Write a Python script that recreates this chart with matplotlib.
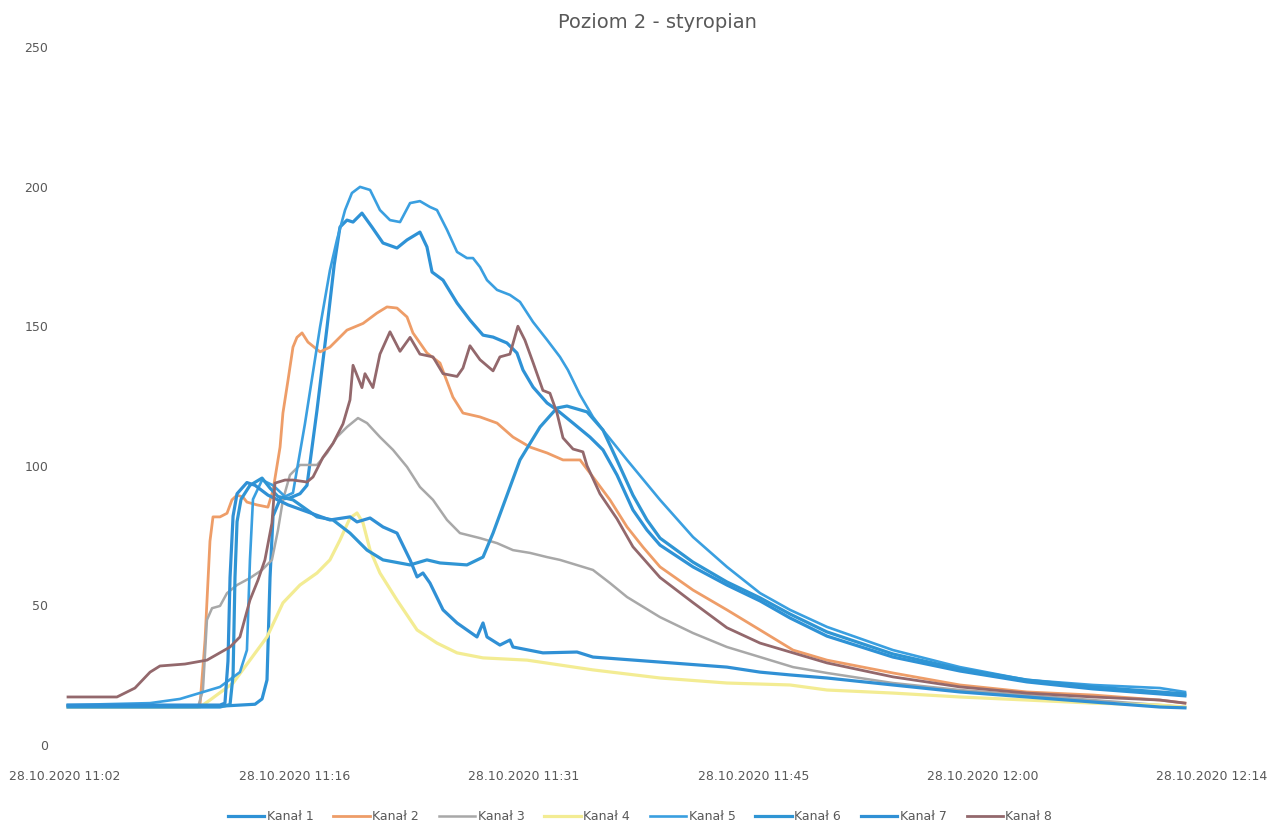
import matplotlib
matplotlib.use("Agg")
import matplotlib.pyplot as plt
import numpy as np

# ==== DATA ====
# time axis: minutes after 28.10.2020 11:02:30
title = "Poziom 2 - styropian"
tick_labels = ["28.10.2020 11:02", "28.10.2020 11:16", "28.10.2020 11:31",
               "28.10.2020 11:45", "28.10.2020 12:00", "28.10.2020 12:14"]
tick_step_min = 14.4

k1_t = [0.19, 10.04, 11.93, 12.37, 12.68, 12.87, 13.06, 13.50, 14.12, 14.75, 15.19, 15.82,
        16.45, 16.90, 17.26, 17.70, 18.08, 18.64, 19.27, 19.96, 20.84, 21.47, 22.28, 22.72,
        23.04, 23.73, 24.61, 25.42, 26.24, 26.87, 27.74, 28.37, 28.75, 29.38, 30.26, 30.88,
        31.89, 32.95, 33.77, 34.65, 35.65, 36.53, 37.35, 39.42, 41.55, 43.63, 45.51, 47.83,
        51.97, 56.18, 60.38, 64.53, 68.73, 70.30]
k1_v = [14.0, 14.0, 14.6, 16.5, 23.3, 60.0, 82.0, 88.0, 88.5, 90.0, 93.0, 120.0,
        149.7, 172.0, 185.5, 188.0, 187.3, 190.5, 185.5, 179.8, 178.0, 180.9, 183.7, 178.4,
        169.4, 166.5, 158.3, 152.2, 146.8, 146.1, 144.0, 140.4, 134.3, 128.2, 122.5, 120.0,
        115.3, 110.3, 105.7, 96.7, 84.2, 77.0, 71.6, 63.8, 57.3, 51.6, 45.5, 39.0,
        31.5, 26.5, 22.6, 20.1, 18.3, 17.6]

k2_t = [0.19, 8.47, 8.79, 9.10, 9.29, 9.73, 10.17, 10.48, 10.80, 11.17, 11.42, 12.05,
        12.74, 13.06, 13.50, 13.68, 14.00, 14.31, 14.56, 14.88, 15.25, 16.01, 16.63, 17.70,
        18.71, 19.58, 20.21, 20.84, 21.47, 21.84, 22.72, 23.54, 24.35, 24.98, 26.05, 27.12,
        28.12, 29.19, 30.26, 31.26, 32.33, 33.14, 34.21, 35.28, 36.28, 37.35, 39.42, 41.55,
        43.63, 45.70, 47.83, 51.97, 56.18, 60.38, 64.53, 68.73, 70.30]
k2_v = [14.0, 14.0, 37.6, 73.0, 81.7, 81.7, 83.0, 87.8, 89.5, 88.8, 87.0, 86.0,
        85.2, 91.3, 106.7, 118.9, 130.7, 142.5, 146.0, 147.6, 144.3, 140.8, 142.5, 148.6,
        151.0, 154.7, 156.9, 156.5, 153.3, 147.6, 140.4, 136.8, 124.6, 118.9, 117.5, 115.3,
        110.3, 106.7, 104.6, 102.1, 102.1, 96.0, 87.8, 78.1, 70.9, 63.8, 55.5, 48.4,
        41.2, 34.0, 30.4, 25.8, 21.5, 19.0, 17.9, 16.1, 15.0]

k3_t = [0.19, 8.35, 8.66, 8.91, 9.23, 9.73, 10.17, 10.80, 11.61, 12.37, 12.99, 13.37,
        13.68, 14.12, 14.75, 15.82, 16.45, 17.07, 17.70, 18.39, 18.96, 19.77, 20.59, 21.47,
        22.28, 23.10, 23.98, 24.79, 26.05, 27.12, 28.12, 29.19, 30.26, 31.07, 33.14, 34.21,
        35.28, 37.35, 39.42, 41.55, 43.63, 45.70, 47.83, 51.97, 56.18, 60.38, 64.53, 68.73,
        70.30]
k3_v = [13.6, 13.6, 19.7, 44.8, 49.0, 49.8, 54.4, 57.3, 59.8, 62.7, 66.3, 77.0,
        87.8, 96.7, 100.3, 100.3, 104.6, 110.3, 113.9, 117.1, 115.3, 110.3, 105.7, 99.6,
        92.4, 87.8, 80.6, 75.9, 74.1, 72.3, 69.8, 68.8, 67.3, 66.3, 62.7, 58.0,
        53.0, 45.8, 40.1, 35.1, 31.5, 27.9, 25.8, 22.2, 19.7, 17.9, 16.1, 14.3,
        13.6]

k4_t = [0.19, 8.47, 9.10, 10.55, 11.61, 12.68, 13.68, 14.75, 15.82, 16.63, 17.26, 17.89,
        18.33, 18.71, 19.15, 19.77, 20.84, 22.10, 23.35, 24.61, 26.24, 29.00, 33.14, 37.35,
        41.55, 45.51, 47.83, 51.97, 56.18, 60.38, 64.53, 68.73, 70.30]
k4_v = [13.6, 13.6, 16.1, 22.2, 30.4, 38.7, 50.9, 57.3, 61.6, 66.3, 73.4, 81.3,
        83.1, 79.5, 69.8, 61.6, 51.9, 41.2, 36.5, 33.0, 31.2, 30.4, 26.9, 24.0,
        22.2, 21.5, 19.7, 18.6, 17.2, 16.1, 15.0, 14.3, 13.6]

k5_t = [0.19, 5.34, 7.22, 9.73, 10.98, 11.42, 11.61, 11.80, 12.37, 13.06, 13.81, 14.31,
        15.06, 16.01, 16.63, 17.07, 17.58, 18.01, 18.52, 19.15, 19.77, 20.40, 21.03, 21.66,
        22.28, 22.91, 23.35, 23.98, 24.61, 25.23, 25.61, 26.05, 26.49, 27.12, 27.93, 28.56,
        29.38, 30.26, 31.07, 31.57, 32.33, 33.14, 33.77, 35.28, 37.35, 39.42, 41.55, 43.63,
        45.51, 47.83, 51.97, 56.18, 60.38, 64.53, 68.73, 70.30]
k5_v = [14.3, 15.0, 16.5, 20.8, 26.1, 34.0, 66.3, 88.0, 94.9, 93.0, 89.0, 90.3,
        115.0, 149.7, 170.0, 180.9, 191.6, 197.7, 199.9, 198.8, 191.6, 188.0, 187.3, 194.1,
        194.8, 192.7, 191.6, 184.5, 176.6, 174.4, 174.4, 171.2, 166.5, 163.0, 161.2, 158.7,
        151.5, 145.1, 139.0, 134.3, 125.4, 117.5, 112.8, 102.1, 87.8, 74.5, 63.8, 54.4,
        48.4, 42.3, 34.0, 27.9, 23.3, 21.5, 20.4, 19.0]

k6_t = [0.19, 9.73, 10.36, 10.55, 10.67, 10.80, 11.05, 11.61, 12.37, 12.87, 13.37, 14.31,
        15.82, 16.82, 17.89, 18.96, 19.96, 21.66, 22.72, 23.54, 25.23, 26.24, 26.87, 28.56,
        29.82, 30.88, 31.51, 32.77, 33.77, 34.65, 35.65, 36.53, 37.35, 39.42, 41.55, 43.63,
        45.51, 47.83, 51.97, 56.18, 60.38, 64.53, 68.73, 70.30]
k6_v = [13.6, 13.6, 14.5, 25.0, 60.0, 80.0, 88.0, 93.0, 95.6, 92.0, 89.0, 87.8,
        81.7, 80.6, 75.9, 69.8, 66.3, 64.5, 66.3, 65.2, 64.5, 67.3, 75.9, 102.1,
        113.9, 120.7, 121.4, 119.3, 112.8, 102.0, 89.5, 80.6, 74.1, 65.5, 58.4, 52.7,
        46.9, 40.5, 32.6, 27.2, 23.3, 20.8, 19.0, 18.3]

k7_t = [0.19, 9.73, 10.04, 10.23, 10.36, 10.55, 10.80, 11.42, 11.93, 12.74, 14.00, 16.63,
        17.89, 18.33, 19.15, 19.96, 20.84, 21.66, 22.10, 22.47, 22.91, 23.73, 24.61, 25.86,
        26.24, 26.49, 27.30, 27.93, 28.12, 30.00, 32.14, 33.14, 37.35, 41.55, 43.63, 45.51,
        47.83, 51.97, 56.18, 60.38, 64.53, 68.73, 70.30]
k7_v = [14.3, 14.3, 15.0, 30.0, 60.0, 82.0, 90.0, 94.0, 93.0, 89.5, 86.0, 80.6,
        81.7, 79.9, 81.3, 78.1, 75.9, 66.3, 60.2, 61.6, 58.0, 48.4, 43.7, 38.7,
        43.7, 38.7, 35.8, 37.6, 35.1, 33.0, 33.3, 31.5, 29.7, 27.9, 26.1, 25.1,
        24.0, 21.5, 19.0, 17.2, 15.4, 13.6, 13.3]

k8_t = [0.19, 3.26, 4.39, 5.34, 5.96, 7.53, 8.91, 10.36, 10.98, 11.61, 12.11, 12.55,
        12.99, 13.18, 13.81, 14.31, 15.19, 15.57, 16.19, 16.82, 17.45, 17.89, 18.08, 18.64,
        18.83, 19.33, 19.77, 20.40, 21.03, 21.66, 22.28, 23.10, 23.73, 24.61, 24.98, 25.42,
        26.05, 26.87, 27.30, 27.93, 28.43, 28.87, 29.38, 30.00, 30.44, 30.88, 31.26, 31.89,
        32.51, 32.77, 33.58, 34.65, 35.65, 37.35, 39.42, 41.55, 43.63, 45.70, 47.83, 51.97,
        56.18, 60.38, 64.53, 68.73, 70.30]
k8_v = [17.2, 17.2, 20.4, 26.1, 28.3, 29.0, 30.4, 35.1, 38.7, 51.9, 59.0, 66.3,
        79.5, 93.8, 94.9, 94.9, 94.2, 96.0, 103.0, 108.0, 115.0, 123.6, 136.0, 128.0,
        133.0, 128.0, 140.0, 148.0, 141.0, 146.0, 140.0, 139.0, 133.0, 132.0, 135.0, 143.0,
        138.0, 134.0, 139.0, 140.0, 150.0, 145.0, 137.0, 127.0, 126.0, 119.0, 110.0, 106.0,
        105.0, 100.0, 90.0, 81.0, 71.0, 60.0, 51.0, 42.0, 36.5, 33.0, 29.4, 24.4,
        20.8, 18.6, 17.2, 16.1, 15.0]

series = [
    ("Kanał 1", k1_t, k1_v, "#2E92D6", 2.3),
    ("Kanał 2", k2_t, k2_v, "#EE9D68", 2.0),
    ("Kanał 3", k3_t, k3_v, "#A8A8A8", 1.8),
    ("Kanał 4", k4_t, k4_v, "#F3EC93", 2.3),
    ("Kanał 5", k5_t, k5_v, "#3A9FE0", 1.9),
    ("Kanał 6", k6_t, k6_v, "#2F95D4", 2.3),
    ("Kanał 7", k7_t, k7_v, "#3090D5", 2.3),
    ("Kanał 8", k8_t, k8_v, "#93686C", 2.0),
]

# ==== PLOT ====
plt.rcParams['font.family'] = ['DejaVu Sans']
fig = plt.figure(figsize=(12.68, 8.34), dpi=100)
ax = fig.add_axes([65 / 1268, 89 / 834, 1147 / 1268, 698 / 834])

for label, t, v, color, lw in series:
    ax.plot(t, v, color=color, lw=lw, label=label, solid_joinstyle='round')

ax.set_xlim(0, tick_step_min * (len(tick_labels) - 1))
ax.set_ylim(0, 250)
ax.set_xticks(np.arange(len(tick_labels)) * tick_step_min)
ax.set_xticklabels(tick_labels)
ax.set_yticks(np.arange(0, 251, 50))
ax.tick_params(axis='both', length=0, labelsize=9, labelcolor='#595959')
ax.tick_params(axis='x', pad=18)
ax.tick_params(axis='y', pad=12)
for sp in ax.spines.values():
    sp.set_visible(False)

fig.text(657 / 1268, 1 - 23 / 834, title, ha='center', va='center',
         fontsize=14, color='#595959')

fig.legend(loc='center', bbox_to_anchor=(640 / 1268, 1 - 817 / 834), ncol=8,
           frameon=False, fontsize=9, handlelength=2.9, handletextpad=0.2,
           columnspacing=1.6, labelcolor='#595959')

fig.savefig("out.png", dpi=100, facecolor='white')
